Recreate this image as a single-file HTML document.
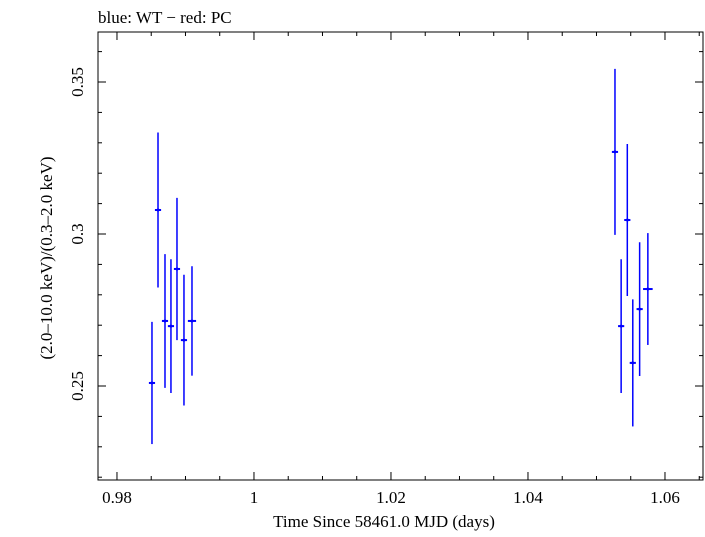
<!DOCTYPE html>
<html><head><meta charset="utf-8"><style>
body{margin:0;background:#fff;}
svg text{font-family:"Liberation Serif",serif;fill:#000;}
</style></head><body>
<svg id="c" width="705" height="532" xmlns="http://www.w3.org/2000/svg"></svg>
<script>
const xs=[0.98511,0.98599,0.98701,0.98788,0.98876,0.98978,0.99095,1.0527,1.0536,1.0545,1.0553,1.0563,1.0575];
const ys=[0.2510,0.3079,0.2714,0.2697,0.2885,0.2651,0.2714,0.3270,0.2697,0.3046,0.2576,0.2753,0.2819];
const yerr=[0.0201,0.0255,0.022,0.022,0.0234,0.0215,0.018,0.0273,0.022,0.025,0.0209,0.022,0.0184];
const xerr=[0.00045,0.00045,0.00045,0.00045,0.00045,0.00045,0.0006,0.00045,0.00045,0.00045,0.00045,0.00045,0.0007];
const xTicks=[0.98,1,1.02,1.04,1.06];
const xTickLabels=["0.98","1","1.02","1.04","1.06"];
const yTicks=[0.25,0.3,0.35];
const yTickLabels=["0.25","0.3","0.35"];
const L=98,R=703,T=32,B=480;
const X0=0.97723,X1=1.06555,Y0=0.21908,Y1=0.36645;
const sx=v=>L+(v-X0)/(X1-X0)*(R-L);
const sy=v=>B-(v-Y0)/(Y1-Y0)*(B-T);
const svg=document.getElementById('c');
const NS='http://www.w3.org/2000/svg';
function mk(t,a,p){const e=document.createElementNS(NS,t);for(const k in a)e.setAttribute(k,a[k]);(p||svg).appendChild(e);return e;}
const frame=mk('rect',{x:L,y:T,width:R-L,height:B-T,fill:'none',stroke:'#000','stroke-width':1});


const ax=mk('g',{stroke:'#000','stroke-width':1});


for(let v=0.98;v<=1.065;v+=0.005){const x=sx(v);const maj=Math.abs(Math.round(v/0.02)*0.02-v)<1e-6;const len=maj?8:4;
mk('line',{x1:x,y1:B,x2:x,y2:B-len},ax);mk('line',{x1:x,y1:T,x2:x,y2:T+len},ax);}
for(let v=0.22;v<=0.366;v+=0.01){const y=sy(v);const maj=Math.abs(Math.round(v/0.05)*0.05-v)<1e-6;const len=maj?8:4;
mk('line',{x1:L,y1:y,x2:L+len,y2:y},ax);mk('line',{x1:R,y1:y,x2:R-len,y2:y},ax);}
xTicks.forEach((v,i)=>{const t=mk('text',{x:sx(v),y:503,'text-anchor':'middle','font-size':17});t.textContent=xTickLabels[i];
});
yTicks.forEach((v,i)=>{const t=mk('text',{x:0,y:0,'text-anchor':'middle','font-size':17,transform:`translate(83,${sy(v)}) rotate(-90)`});t.textContent=yTickLabels[i];
});
const xt=mk('text',{x:384,y:527,'text-anchor':'middle','font-size':17});xt.textContent='Time Since 58461.0 MJD (days)';

const yt=mk('text',{x:0,y:0,'text-anchor':'middle','font-size':17,transform:'translate(52,258) rotate(-90)'});yt.textContent='(2.0\u201310.0 keV)/(0.3\u20132.0 keV)';

const tt=mk('text',{x:98,y:23,'font-size':17});tt.textContent='blue: WT \u2212 red: PC';

const g=mk('g',{stroke:'#0000ff','stroke-width':1.5});

xs.forEach((v,i)=>{const p=mk('g',{},g);

mk('line',{x1:sx(v),x2:sx(v),y1:sy(ys[i]+yerr[i]),y2:sy(ys[i]-yerr[i])},p);
mk('line',{x1:sx(v-xerr[i]),x2:sx(v+xerr[i]),y1:sy(ys[i]),y2:sy(ys[i]),'stroke-width':2},p);
mk('circle',{cx:sx(v),cy:sy(ys[i]),r:1.5,fill:'#0000ff',stroke:'none'},p);});
</script>
</body></html>
